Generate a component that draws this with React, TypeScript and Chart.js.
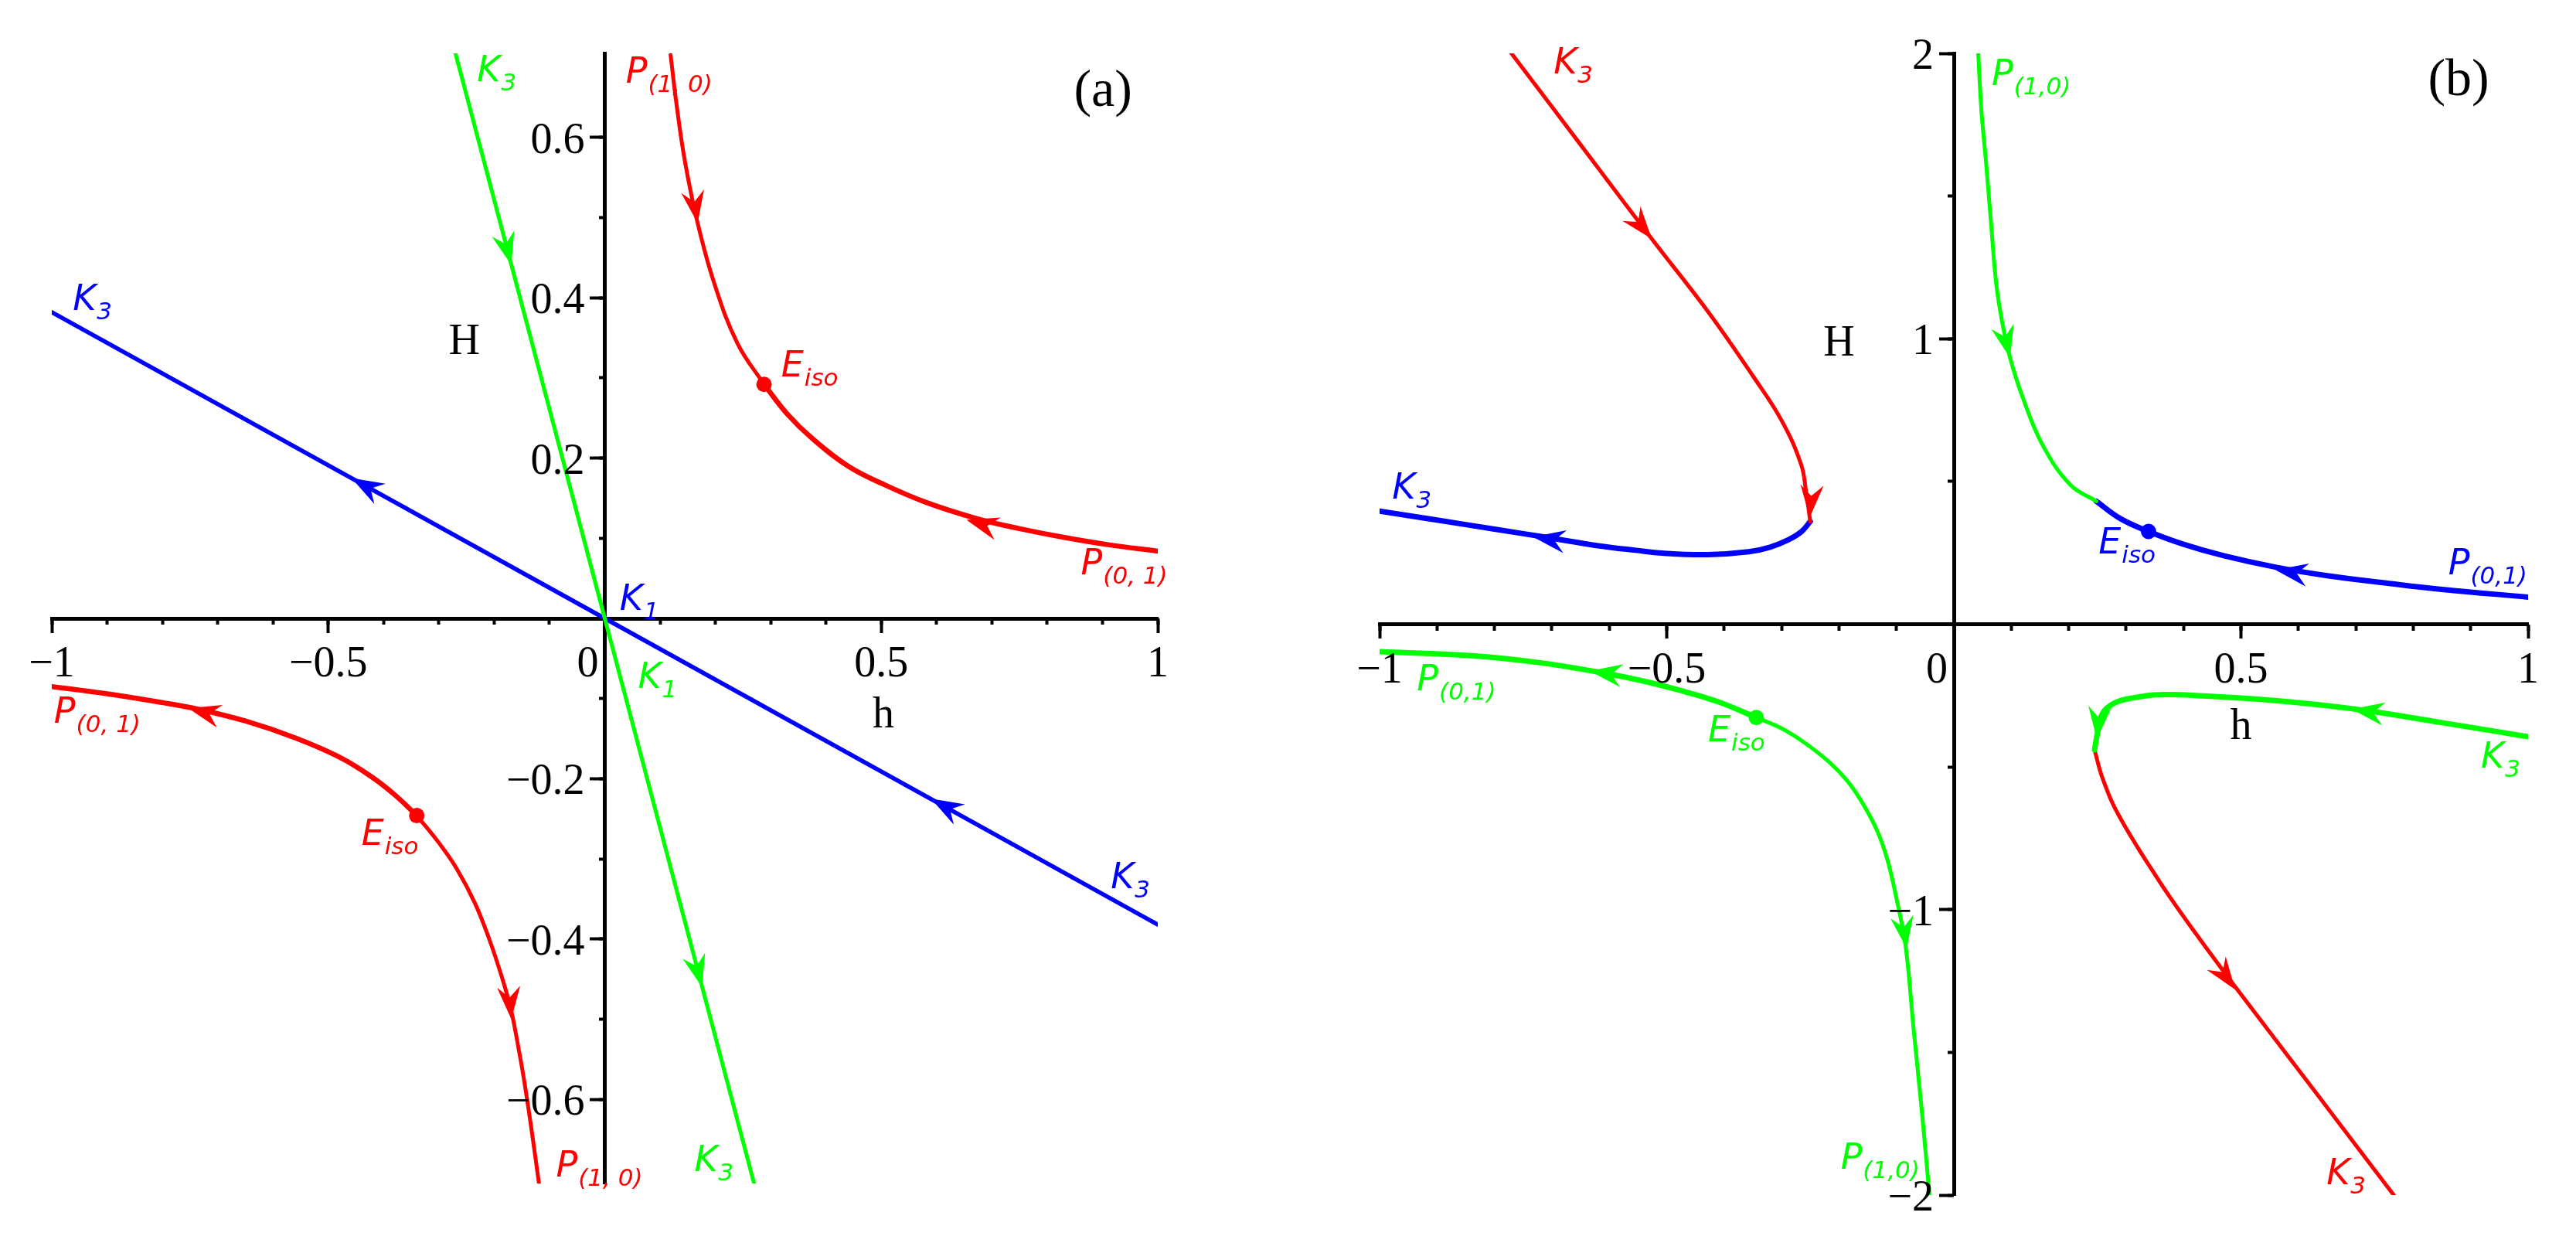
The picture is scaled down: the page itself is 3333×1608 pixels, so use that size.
import React, { useEffect, useRef } from 'react';
import { Chart, registerables } from 'chart.js';

Chart.register(...registerables);

// ---------- Panel (a) data ----------
const blueA_h = [-1, 1];
const blueA_v = [0.382, -0.382];
const greenA_h = [-0.27, 0.27];
const greenA_v = [0.705, -0.705];
const redA1_h = [0.119, 0.13, 0.145, 0.168, 0.198, 0.24, 0.288];
const redA1_v = [0.703, 0.64, 0.57, 0.493, 0.418, 0.343, 0.292];
const redA2_h = [0.288, 0.33, 0.376, 0.44, 0.502, 0.58, 0.675, 0.75, 0.831, 0.91, 1.0];
const redA2_v = [0.292, 0.255, 0.224, 0.19, 0.168, 0.145, 0.124, 0.112, 0.101, 0.092, 0.084];
const redA3_h = [-1, -0.9, -0.8, -0.737, -0.65, -0.56, -0.48, -0.423, -0.38, -0.34];
const redA3_v = [-0.085, -0.094, -0.105, -0.113, -0.128, -0.149, -0.173, -0.197, -0.22, -0.246];
const redA4_h = [-0.34, -0.3, -0.268, -0.235, -0.209, -0.185, -0.169, -0.155, -0.145, -0.132, -0.119];
const redA4_v = [-0.246, -0.28, -0.312, -0.355, -0.4, -0.45, -0.49, -0.54, -0.58, -0.64, -0.705];
const eisoA_h = [0.288, -0.34];
const eisoA_v = [0.292, -0.246];
// arrows: [tip h, tip H, back h, back H]
const arrowsRedA = [[0.168, 0.493, 0.155, 0.55], [0.654, 0.123, 0.72, 0.11], [-0.753, -0.112, -0.68, -0.125], [-0.169, -0.5, -0.175, -0.45]];
const arrowsBlueA = [[-0.458, 0.175, -0.4, 0.153], [0.59, -0.225, 0.65, -0.248]];
const arrowsGreenA = [[-0.169, 0.441, -0.185, 0.483], [0.176, -0.46, 0.16, -0.418]];
const xMinorTicksA = [-1, -0.9, -0.8, -0.7, -0.6, -0.5, -0.4, -0.3, -0.2, -0.1, 0, 0.1, 0.2, 0.3, 0.4, 0.5, 0.6, 0.7, 0.8, 0.9, 1];
const xMajorTicksA = [-1, -0.5, 0, 0.5, 1];
const xLabelsA = ['−1', '−0.5', '0', '0.5', '1'];
const yMinorTicksA = [-0.6, -0.5, -0.4, -0.3, -0.2, -0.1, 0.1, 0.2, 0.3, 0.4, 0.5, 0.6];
const yMajorTicksA = [-0.6, -0.4, -0.2, 0.2, 0.4, 0.6];
const yLabelsA = ['−0.6', '−0.4', '−0.2', '0.2', '0.4', '0.6'];
const labelsRedA = [['P', '(1, 0)', 0.038, 0.668], ['E', 'iso', 0.319, 0.302], ['P', '(0, 1)', 0.861, 0.055], ['P', '(0, 1)', -0.996, -0.13], ['E', 'iso', -0.44, -0.283], ['P', '(1, 0)', -0.088, -0.696]];
const labelsBlueA = [['K', '3', -0.962, 0.385], ['K', '1', 0.027, 0.011], ['K', '3', 0.915, -0.337]];
const labelsGreenA = [['K', '3', -0.231, 0.67], ['K', '1', 0.06, -0.087], ['K', '3', 0.162, -0.69]];
const axisTitlesA = [['H', -0.254, 0.33], ['h', 0.504, -0.136]];
const panelTagA = ['(a)', 0.901, 0.639];

// ---------- Panel (b) data ----------
const redB1_h = [-0.778, -0.7, -0.62, -0.526, -0.428, -0.35, -0.3, -0.266, -0.257, -0.25];
const redB1_v = [2.02, 1.813, 1.6, 1.35, 1.095, 0.87, 0.714, 0.56, 0.46, 0.36];
const blueB1_h = [-0.25, -0.265, -0.287, -0.32, -0.357, -0.428, -0.5, -0.554, -0.62, -0.708, -0.8, -0.9, -1];
const blueB1_v = [0.36, 0.325, 0.297, 0.27, 0.254, 0.244, 0.248, 0.259, 0.275, 0.304, 0.333, 0.365, 0.396];
const greenB1_h = [0.042, 0.048, 0.056, 0.065, 0.074, 0.085, 0.098, 0.119, 0.154, 0.203, 0.248];
const greenB1_v = [2.02, 1.8, 1.62, 1.4, 1.19, 1.05, 0.933, 0.8, 0.63, 0.488, 0.431];
const blueB2_h = [0.248, 0.29, 0.339, 0.4, 0.47, 0.56, 0.65, 0.75, 0.85, 1.0];
const blueB2_v = [0.431, 0.37, 0.325, 0.28, 0.24, 0.2, 0.17, 0.145, 0.122, 0.095];
const greenB2_h = [-1, -0.834, -0.72, -0.624, -0.55, -0.484, -0.41, -0.344];
const greenB2_v = [-0.096, -0.111, -0.135, -0.166, -0.195, -0.228, -0.272, -0.327];
const greenB3_h = [-0.344, -0.3, -0.26, -0.217, -0.185, -0.158, -0.133, -0.115, -0.1, -0.084, -0.07, -0.056, -0.042];
const greenB3_v = [-0.327, -0.365, -0.415, -0.483, -0.55, -0.63, -0.726, -0.83, -0.96, -1.127, -1.42, -1.7, -2.01];
const greenB4_h = [1.0, 0.85, 0.708, 0.567, 0.441, 0.357, 0.315, 0.28, 0.259, 0.25, 0.245];
const greenB4_v = [-0.394, -0.345, -0.3, -0.269, -0.252, -0.247, -0.257, -0.276, -0.312, -0.383, -0.44];
const redB2_h = [0.245, 0.259, 0.287, 0.357, 0.42, 0.49, 0.63, 0.771];
const redB2_v = [-0.44, -0.54, -0.669, -0.898, -1.08, -1.27, -1.64, -2.013];
const eisoBlueB_h = [0.339];
const eisoBlueB_v = [0.325];
const eisoGreenB_h = [-0.344];
const eisoGreenB_v = [-0.327];
const arrowsRedB = [[-0.526, 1.35, -0.55, 1.41], [-0.251, 0.374, -0.249, 0.43], [0.49, -1.28, 0.465, -1.21]];
const arrowsBlueB = [[-0.733, 0.306, -0.68, 0.29], [0.56, 0.19, 0.63, 0.168]];
const arrowsGreenB = [[0.098, 0.933, 0.09, 1.0], [-0.634, -0.164, -0.58, -0.18], [-0.082, -1.137, -0.087, -1.07], [0.693, -0.298, 0.75, -0.315], [0.249, -0.403, 0.252, -0.34]];
const xMinorTicksB = [-1, -0.9, -0.8, -0.7, -0.6, -0.5, -0.4, -0.3, -0.2, -0.1, 0, 0.1, 0.2, 0.3, 0.4, 0.5, 0.6, 0.7, 0.8, 0.9, 1];
const xMajorTicksB = [-1, -0.5, 0, 0.5, 1];
const xLabelsB = ['−1', '−0.5', '0', '0.5', '1'];
const yMinorTicksB = [-2, -1.5, -1, -0.5, 0.5, 1, 1.5, 2];
const yMajorTicksB = [-2, -1, 1, 2];
const yLabelsB = ['−2', '−1', '1', '2'];
const labelsRedB = [['K', '3', -0.697, 1.93], ['K', '3', 0.649, -1.962]];
const labelsBlueB = [['K', '3', -0.978, 0.44], ['E', 'iso', 0.252, 0.247], ['P', '(0,1)', 0.861, 0.176]];
const labelsGreenB = [['P', '(1,0)', 0.066, 1.89], ['P', '(0,1)', -0.935, -0.231], ['E', 'iso', -0.428, -0.41], ['K', '3', 0.918, -0.503], ['P', '(1,0)', -0.197, -1.908]];
const axisTitlesB = [['H', -0.2, 0.94], ['h', 0.5, -0.403]];
const panelTagB = ['(b)', 0.879, 1.854];

// ---------- styling ----------
const RED = '#ff0000';
const GREEN = '#00ff00';
const BLUE = '#0000ff';
const THIN = 5;
const THICK = 7;
const SERIF = '"Liberation Serif", "Times New Roman", serif';
const SANS = '"DejaVu Sans", sans-serif';

const pts = (hs: number[], vs: number[]) => hs.map((h, i) => ({ x: h, y: vs[i] }));

const lineDs = (hs: number[], vs: number[], color: string, width: number) => ({
  data: pts(hs, vs),
  borderColor: color,
  backgroundColor: color,
  borderWidth: width,
  pointRadius: 0,
  tension: 0.4,
  fill: false,
  showLine: true,
  borderCapStyle: 'round',
  borderJoinStyle: 'round',
});

const dotDs = (hs: number[], vs: number[], color: string) => ({
  data: pts(hs, vs),
  borderColor: color,
  backgroundColor: color,
  pointBackgroundColor: color,
  pointBorderWidth: 0,
  pointRadius: 10,
  showLine: false,
});

const setTicks = (arr: number[]) => (scale: any) => {
  scale.ticks = arr.map((v) => ({ value: v }));
};

function makeScales(xr: number[], yr: number[], xMinor: number[], xMajor: number[], yMinor: number[], yMajor: number[]) {
  const common = (min: number, max: number) => ({ type: 'linear', min, max, ticks: { display: false } });
  return {
    x: {
      ...common(xr[0], xr[1]), axis: 'x', position: { y: 0 },
      afterBuildTicks: setTicks(xMajor),
      grid: { display: true, drawOnChartArea: false, drawTicks: true, tickLength: 16, tickWidth: 4, tickColor: '#000' },
      border: { display: true, color: '#000', width: 5 },
    },
    xMinor: {
      ...common(xr[0], xr[1]), axis: 'x', position: { y: 0 },
      afterBuildTicks: setTicks(xMinor),
      grid: { display: true, drawOnChartArea: false, drawTicks: true, tickLength: 8, tickWidth: 4, tickColor: '#000' },
      border: { display: false },
    },
    y: {
      ...common(yr[0], yr[1]), axis: 'y', position: { x: 0 },
      afterBuildTicks: setTicks(yMajor),
      grid: { display: true, drawOnChartArea: false, drawTicks: true, tickLength: 17, tickWidth: 4, tickColor: '#000' },
      border: { display: true, color: '#000', width: 5 },
    },
    yMinor: {
      ...common(yr[0], yr[1]), axis: 'y', position: { x: 0 },
      afterBuildTicks: setTicks(yMinor),
      grid: { display: true, drawOnChartArea: false, drawTicks: true, tickLength: 8, tickWidth: 4, tickColor: '#000' },
      border: { display: false },
    },
  };
}

type Cfg = {
  arrows: { color: string; list: number[][] }[];
  labels: { color: string; list: any[][] }[];
  xVals: number[]; xTexts: string[];
  yVals: number[]; yTexts: string[];
  titles: any[][];
  tag: any[];
};

function makeOverlay(cfg: Cfg) {
  return {
    id: 'overlay',
    afterDatasetsDraw(chart: any) {
      const { ctx } = chart;
      const xs = chart.scales.x;
      const ys = chart.scales.y;
      const P = (h: number, v: number) => [xs.getPixelForValue(h), ys.getPixelForValue(v)];
      const x0 = xs.getPixelForValue(0);
      const y0 = ys.getPixelForValue(0);
      ctx.save();
      // arrowheads
      const L = 42, W = 15, N = 28;
      for (const g of cfg.arrows) {
        ctx.fillStyle = g.color;
        for (const a of g.list) {
          const [tx, ty] = P(a[0], a[1]);
          const [bx, by] = P(a[2], a[3]);
          let dx = tx - bx, dy = ty - by;
          const len = Math.hypot(dx, dy) || 1;
          dx /= len; dy /= len;
          const nx = -dy, ny = dx;
          ctx.beginPath();
          ctx.moveTo(tx, ty);
          ctx.lineTo(tx - dx * L + nx * W, ty - dy * L + ny * W);
          ctx.lineTo(tx - dx * N, ty - dy * N);
          ctx.lineTo(tx - dx * L - nx * W, ty - dy * L - ny * W);
          ctx.closePath();
          ctx.fill();
        }
      }
      // tick labels
      ctx.fillStyle = '#000';
      ctx.font = `56px ${SERIF}`;
      ctx.textBaseline = 'alphabetic';
      cfg.xVals.forEach((v, i) => {
        const px = xs.getPixelForValue(v);
        if (v === 0) {
          ctx.textAlign = 'right';
          ctx.fillText(cfg.xTexts[i], x0 - 8, y0 + 75);
        } else {
          ctx.textAlign = 'center';
          ctx.fillText(cfg.xTexts[i], px, y0 + 75);
        }
      });
      ctx.textAlign = 'right';
      cfg.yVals.forEach((v, i) => {
        const py = ys.getPixelForValue(v);
        ctx.fillText(cfg.yTexts[i], x0 - 26, py + 20);
      });
      // axis titles
      ctx.textAlign = 'center';
      for (const t of cfg.titles) {
        const [px, py] = P(t[1], t[2]);
        ctx.fillText(t[0], px, py);
      }
      ctx.font = `68px ${SERIF}`;
      {
        const [px, py] = P(cfg.tag[1], cfg.tag[2]);
        ctx.fillText(cfg.tag[0], px, py);
      }
      // curve labels with subscripts
      ctx.textAlign = 'left';
      for (const g of cfg.labels) {
        ctx.fillStyle = g.color;
        for (const l of g.list) {
          const [px, py] = P(l[2], l[3]);
          ctx.font = `italic 46px ${SANS}`;
          ctx.fillText(l[0], px, py);
          const w = ctx.measureText(l[0]).width;
          ctx.font = `italic 31px ${SANS}`;
          ctx.fillText(l[1], px + w + 1, py + 12);
        }
      }
      ctx.restore();
    },
  };
}

function buildChart(canvas: HTMLCanvasElement, datasets: any[], scales: any, padding: any, cfg: Cfg) {
  return new Chart(canvas, {
    type: 'line',
    data: { datasets },
    options: {
      animation: false,
      responsive: false,
      devicePixelRatio: 1,
      parsing: false,
      normalized: true,
      layout: { padding },
      plugins: { legend: { display: false }, tooltip: { enabled: false } },
      events: [],
      scales,
    } as any,
    plugins: [makeOverlay(cfg) as any],
  });
}

export default function App() {
  const refA = useRef<HTMLCanvasElement>(null);
  const refB = useRef<HTMLCanvasElement>(null);

  useEffect(() => {
    const dsA = [
      lineDs(greenA_h, greenA_v, GREEN, THIN),
      lineDs(blueA_h, blueA_v, BLUE, THIN + 0.5),
      lineDs(redA1_h, redA1_v, RED, THIN),
      lineDs(redA2_h, redA2_v, RED, THICK - 0.5),
      lineDs(redA3_h, redA3_v, RED, THICK - 0.5),
      lineDs(redA4_h, redA4_v, RED, THIN),
      dotDs(eisoA_h, eisoA_v, RED),
    ];
    const chartA = buildChart(
      refA.current!,
      dsA,
      makeScales([-1, 1], [-0.705, 0.705], xMinorTicksA, xMajorTicksA, yMinorTicksA, yMajorTicksA),
      { left: 67, right: 162, top: 69, bottom: 77 },
      {
        arrows: [{ color: RED, list: arrowsRedA }, { color: BLUE, list: arrowsBlueA }, { color: GREEN, list: arrowsGreenA }],
        labels: [{ color: RED, list: labelsRedA }, { color: BLUE, list: labelsBlueA }, { color: GREEN, list: labelsGreenA }],
        xVals: xMajorTicksA, xTexts: xLabelsA, yVals: yMajorTicksA, yTexts: yLabelsA,
        titles: axisTitlesA, tag: panelTagA,
      }
    );
    const dsB = [
      lineDs(redB1_h, redB1_v, RED, THIN),
      lineDs(blueB1_h, blueB1_v, BLUE, THICK),
      lineDs(greenB1_h, greenB1_v, GREEN, THIN),
      lineDs(blueB2_h, blueB2_v, BLUE, THICK),
      lineDs(greenB2_h, greenB2_v, GREEN, THICK),
      lineDs(greenB3_h, greenB3_v, GREEN, THIN),
      lineDs(greenB4_h, greenB4_v, GREEN, THICK),
      lineDs(redB2_h, redB2_v, RED, THIN),
      dotDs(eisoBlueB_h, eisoBlueB_v, BLUE),
      dotDs(eisoGreenB_h, eisoGreenB_v, GREEN),
    ];
    const chartB = buildChart(
      refB.current!,
      dsB,
      makeScales([-1, 1], [-2, 2], xMinorTicksB, xMajorTicksB, yMinorTicksB, yMajorTicksB),
      { left: 125, right: 62, top: 69, bottom: 62 },
      {
        arrows: [{ color: RED, list: arrowsRedB }, { color: BLUE, list: arrowsBlueB }, { color: GREEN, list: arrowsGreenB }],
        labels: [{ color: RED, list: labelsRedB }, { color: BLUE, list: labelsBlueB }, { color: GREEN, list: labelsGreenB }],
        xVals: xMajorTicksB, xTexts: xLabelsB, yVals: yMajorTicksB, yTexts: yLabelsB,
        titles: axisTitlesB, tag: panelTagB,
      }
    );
    return () => {
      chartA.destroy();
      chartB.destroy();
    };
  }, []);

  return (
    <div style={{ position: 'absolute', left: 0, top: 0, width: 3333, height: 1608, background: '#fff', overflow: 'hidden' }}>
      <canvas ref={refA} width={1660} height={1608} style={{ position: 'absolute', left: 0, top: 0, width: 1660, height: 1608 }} />
      <canvas ref={refB} width={1673} height={1608} style={{ position: 'absolute', left: 1660, top: 0, width: 1673, height: 1608 }} />
    </div>
  );
}
